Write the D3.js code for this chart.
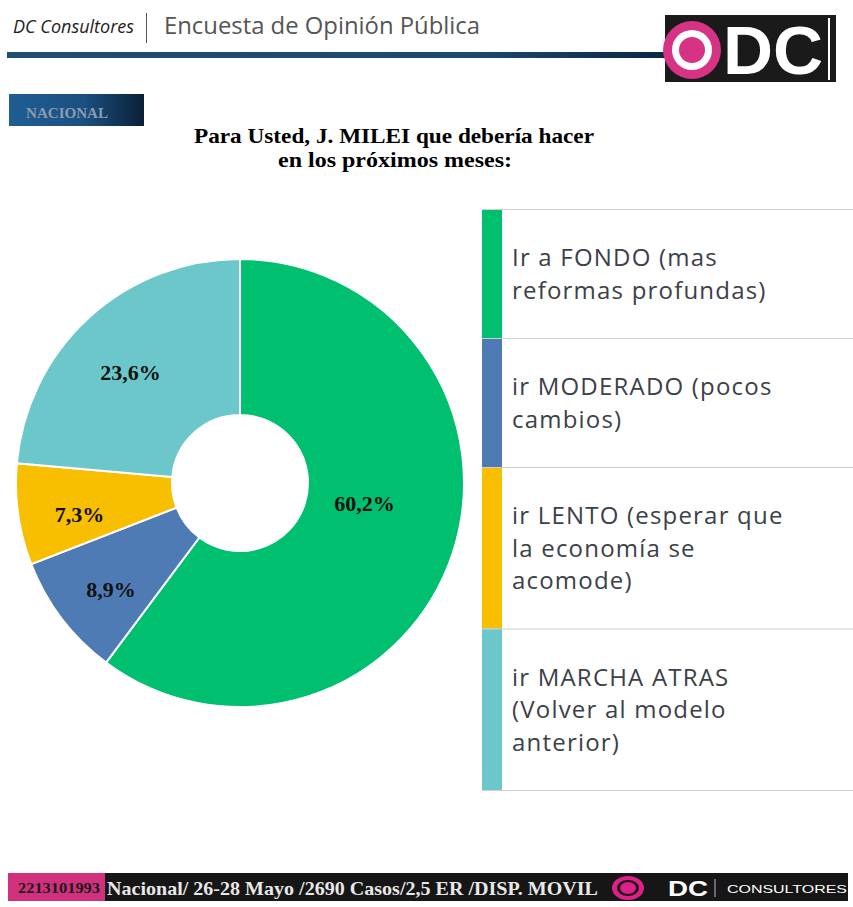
<!DOCTYPE html>
<html lang="es">
<head>
<meta charset="utf-8">
<title>DC Consultores - Milei</title>
<script src="https://d3js.org/d3.v7.min.js"></script>
<style>
  body { margin: 0; background: #fff; }
  svg { display: block; }
  .legend { font-family: "Open Sans", Roboto, sans-serif; font-size: 24px; fill: #3c4049; letter-spacing: 1.2px; }
  .lbl { font-family: "Liberation Serif", "DejaVu Serif", serif; font-size: 22px; font-weight: bold; fill: #111; }
</style>
</head>
<body>
<svg id="chart" width="853" height="907"></svg>
<script>
// data
const categories = ["Ir a FONDO", "ir MODERADO", "ir LENTO", "ir MARCHA ATRAS"];
const values = [60.2, 8.9, 7.3, 23.6];
const valueLabels = ["60,2%", "8,9%", "7,3%", "23,6%"];
const legendLines = [
  ["Ir a FONDO (mas", "reformas profundas)"],
  ["ir MODERADO (pocos", "cambios)"],
  ["ir LENTO (esperar que", "la economía se", "acomode)"],
  ["ir MARCHA ATRAS", "(Volver al modelo", "anterior)"]
];
const colors = ["#00bf6f", "#4f7bb5", "#f8be00", "#6cc7cb"];

const svg = d3.select("#chart");
const defs = svg.append("defs");

// ---- header ----
svg.append("text")
   .attr("x", 13).attr("y", 33)
   .attr("font-family", "'Open Sans', sans-serif")
   .attr("font-style", "italic")
   .attr("font-size", 19)
   .attr("fill", "#222")
   .attr("textLength", 121).attr("lengthAdjust", "spacingAndGlyphs")
   .text("DC Consultores");

svg.append("line")
   .attr("x1", 146.5).attr("x2", 146.5).attr("y1", 13).attr("y2", 43)
   .attr("stroke", "#555").attr("stroke-width", 1);

svg.append("text")
   .attr("x", 164).attr("y", 34)
   .attr("font-family", "'Open Sans', sans-serif")
   .attr("font-size", 23)
   .attr("fill", "#555")
   .attr("textLength", 316).attr("lengthAdjust", "spacingAndGlyphs")
   .text("Encuesta de Opinión Pública");

const lineGrad = defs.append("linearGradient").attr("id", "lineGrad");
lineGrad.append("stop").attr("offset", "0%").attr("stop-color", "#1c4e76");
lineGrad.append("stop").attr("offset", "70%").attr("stop-color", "#1a4a70");
lineGrad.append("stop").attr("offset", "100%").attr("stop-color", "#0c2644");

svg.append("rect")
   .attr("x", 7).attr("y", 52).attr("width", 660).attr("height", 6)
   .attr("fill", "url(#lineGrad)");

// logo
const logo = svg.append("g");
logo.append("rect").attr("x", 665).attr("y", 15).attr("width", 171).attr("height", 67).attr("fill", "#1a1a1a");
logo.append("circle").attr("cx", 692).attr("cy", 50).attr("r", 29).attr("fill", "#d63384");
logo.append("circle").attr("cx", 692).attr("cy", 50).attr("r", 20).attr("fill", "#fff");
logo.append("circle").attr("cx", 692).attr("cy", 50).attr("r", 13).attr("fill", "#d63384");
logo.append("text")
    .attr("x", 723).attr("y", 74)
    .attr("font-family", "'Liberation Sans', Arial, sans-serif")
    .attr("font-weight", "bold").attr("font-size", 68)
    .attr("fill", "#fff")
    .attr("textLength", 100).attr("lengthAdjust", "spacingAndGlyphs")
    .text("DC");
logo.append("line").attr("x1", 829).attr("x2", 829).attr("y1", 18).attr("y2", 80)
    .attr("stroke", "#fff").attr("stroke-width", 2);

// NACIONAL badge
const badgeGrad = defs.append("linearGradient").attr("id", "badgeGrad");
badgeGrad.append("stop").attr("offset", "0%").attr("stop-color", "#1f5e92");
badgeGrad.append("stop").attr("offset", "55%").attr("stop-color", "#1b5080");
badgeGrad.append("stop").attr("offset", "100%").attr("stop-color", "#0b2038");
svg.append("rect")
   .attr("x", 9).attr("y", 94).attr("width", 135).attr("height", 32)
   .attr("fill", "url(#badgeGrad)");
svg.append("text")
   .attr("x", 26).attr("y", 118)
   .attr("font-family", "'Liberation Serif', serif")
   .attr("font-weight", "bold").attr("font-size", 14)
   .attr("fill", "#8a9cb2")
   .attr("textLength", 82).attr("lengthAdjust", "spacingAndGlyphs")
   .text("NACIONAL");

// title
const title = svg.append("text")
   .attr("font-family", "'Liberation Serif', serif")
   .attr("font-weight", "bold").attr("font-size", 21)
   .attr("fill", "#000").attr("text-anchor", "middle");
title.append("tspan").attr("x", 394).attr("y", 143)
     .attr("textLength", 400).attr("lengthAdjust", "spacingAndGlyphs")
     .text("Para Usted, J. MILEI que debería hacer");
title.append("tspan").attr("x", 395).attr("y", 167)
     .attr("textLength", 234).attr("lengthAdjust", "spacingAndGlyphs")
     .text("en los próximos meses:");

// ---- donut ----
const cx = 240, cy = 483, outerR = 224, innerR = 68;
const pie = d3.pie().sort(null).value(d => d)(values);
const arc = d3.arc().innerRadius(innerR).outerRadius(outerR);
const labelArc = d3.arc().innerRadius(162).outerRadius(162);

const pieG = svg.append("g").attr("transform", `translate(${cx},${cy})`);
pieG.selectAll("path")
    .data(pie)
    .join("path")
    .attr("d", arc)
    .attr("fill", (d, i) => colors[i])
    .attr("stroke", "#fff")
    .attr("stroke-width", 2);

pieG.selectAll("text")
    .data(pie)
    .join("text")
    .attr("class", "lbl")
    .attr("text-anchor", "middle")
    .attr("transform", (d, i) => {
      let [x, y] = labelArc.centroid(d);
      // the big slice label sits closer to the hole
      if (i === 0) { x = x * 0.81; y = y * 0.235; }
      return `translate(${x},${y + 16})`;
    })
    .text((d, i) => valueLabels[i]);

// ---- legend ----
const legX = 482, legTop = 209, lineH = 32.5;
const rowH = legendLines.map(l => 64 + lineH * l.length);
const rowY = rowH.map((h, i) => legTop + d3.sum(rowH.slice(0, i)));

const leg = svg.append("g");
leg.selectAll("rect")
   .data(categories)
   .join("rect")
   .attr("x", legX).attr("y", (d, i) => rowY[i])
   .attr("width", 20).attr("height", (d, i) => rowH[i])
   .attr("fill", (d, i) => colors[i]);

leg.selectAll("line")
   .data(d3.range(categories.length + 1))
   .join("line")
   .attr("x1", legX).attr("x2", 853)
   .attr("y1", i => (i < categories.length ? rowY[i] : rowY[i - 1] + rowH[i - 1]) + 0.5)
   .attr("y2", i => (i < categories.length ? rowY[i] : rowY[i - 1] + rowH[i - 1]) + 0.5)
   .attr("stroke", "#cfcfcf").attr("stroke-width", 1);

leg.selectAll("text.legend")
   .data(categories)
   .join("text")
   .attr("class", "legend")
   .each(function (d, i) {
     const t = d3.select(this);
     legendLines[i].forEach((ln, j) => {
       t.append("tspan")
        .attr("x", 512)
        .attr("y", rowY[i] + 57 + j * lineH)
        .text(ln);
     });
   });

// ---- footer ----
const foot = svg.append("g");
foot.append("rect").attr("x", 8).attr("y", 873).attr("width", 840).attr("height", 28).attr("fill", "#161616");
foot.append("rect").attr("x", 8).attr("y", 873).attr("width", 97).attr("height", 28).attr("fill", "#d1307c");
foot.append("text")
    .attr("x", 18).attr("y", 893)
    .attr("font-family", "'Liberation Serif', serif")
    .attr("font-weight", "bold")
    .attr("font-size", 14).attr("fill", "#1a1a1a")
    .attr("textLength", 82).attr("lengthAdjust", "spacingAndGlyphs")
    .text("2213101993");
foot.append("text")
    .attr("x", 107).attr("y", 895)
    .attr("font-family", "'Liberation Serif', serif")
    .attr("font-weight", "bold").attr("font-size", 19).attr("fill", "#e8e8e8")
    .attr("textLength", 491).attr("lengthAdjust", "spacingAndGlyphs")
    .text("Nacional/ 26-28 Mayo /2690 Casos/2,5 ER /DISP. MOVIL");
foot.append("ellipse").attr("cx", 628).attr("cy", 888).attr("rx", 16).attr("ry", 12).attr("fill", "#e0208a");
foot.append("ellipse").attr("cx", 628).attr("cy", 888).attr("rx", 11).attr("ry", 8).attr("fill", "#161616");
foot.append("ellipse").attr("cx", 628).attr("cy", 888).attr("rx", 8).attr("ry", 6).attr("fill", "#e0208a");
foot.append("text")
    .attr("x", 668).attr("y", 896)
    .attr("font-family", "'Liberation Sans', Arial, sans-serif")
    .attr("font-weight", "bold").attr("font-size", 22).attr("fill", "#fff")
    .attr("textLength", 40).attr("lengthAdjust", "spacingAndGlyphs")
    .text("DC");
foot.append("line").attr("x1", 715).attr("x2", 715).attr("y1", 879).attr("y2", 897)
    .attr("stroke", "#bbb").attr("stroke-width", 1);
foot.append("text")
    .attr("x", 727).attr("y", 893)
    .attr("font-family", "'Liberation Sans', Arial, sans-serif")
    .attr("font-size", 11).attr("fill", "#fff")
    .attr("textLength", 120).attr("lengthAdjust", "spacingAndGlyphs")
    .text("CONSULTORES");
</script>
</body>
</html>
